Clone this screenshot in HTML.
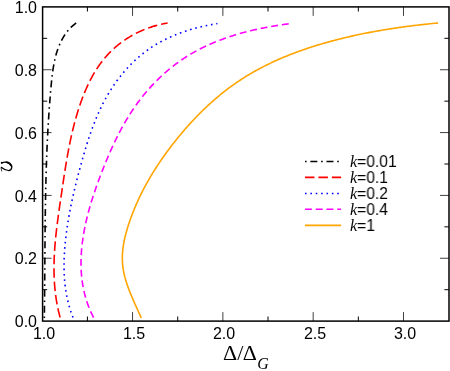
<!DOCTYPE html>
<html><head><meta charset="utf-8"><title>plot</title>
<style>
html,body{margin:0;padding:0;background:#fff;}
body{width:450px;height:371px;position:relative;overflow:hidden;font-family:"Liberation Sans",sans-serif;color:#000;}
.t{position:absolute;white-space:nowrap;line-height:1;font-size:16px;will-change:transform;}
.xl{transform:translateX(-50%);}
.yl{transform:translate(-100%,-50%);}
.lg{font-size:16px;transform:scaleX(0.975);transform-origin:0 0;}
.lg i{font-family:"Liberation Serif",serif;font-style:italic;font-size:16.5px;}
.ser{font-family:"Liberation Serif",serif;}
</style></head><body>
<svg width="450" height="371" viewBox="0 0 450 371" style="position:absolute;left:0;top:0">
<path d="M44.32,318.11 L44.33,317.34 L44.34,316.58 L44.35,315.81 L44.36,315.04 L44.37,314.27 L44.38,313.51 L44.39,312.74 L44.40,311.97 L44.41,311.21 L44.42,310.44 L44.43,309.67 L44.44,308.91 L44.45,308.14 L44.46,307.37 L44.47,306.61 L44.48,305.84 L44.49,305.08 L44.50,304.31 L44.51,303.54 L44.52,302.78 L44.52,302.01 L44.53,301.25 L44.54,300.48 L44.55,299.72 L44.56,298.95 L44.57,298.19 L44.57,297.42 L44.58,296.65 L44.59,295.89 L44.60,295.12 L44.60,294.36 L44.61,293.60 L44.62,292.83 L44.63,292.07 L44.63,291.30 L44.64,290.54 L44.65,289.77 L44.65,289.01 L44.66,288.24 L44.67,287.48 L44.67,286.72 L44.68,285.95 L44.69,285.19 L44.69,284.42 L44.70,283.66 L44.70,282.90 L44.71,282.13 L44.72,281.37 L44.72,280.60 L44.73,279.84 L44.74,279.08 L44.74,278.31 L44.75,277.55 L44.75,276.79 L44.76,276.03 L44.76,275.26 L44.77,274.50 L44.78,273.74 L44.78,272.97 L44.79,272.21 L44.79,271.45 L44.80,270.69 L44.80,269.92 L44.81,269.16 L44.81,268.40 L44.82,267.63 L44.82,266.87 L44.83,266.11 L44.83,265.35 L44.84,264.59 L44.85,263.82 L44.85,263.06 L44.86,262.30 L44.86,261.54 L44.87,260.78 L44.87,260.01 L44.88,259.25 L44.88,258.49 L44.89,257.73 L44.89,256.97 L44.90,256.21 L44.90,255.44 L44.91,254.68 L44.92,253.92 L44.92,253.16 L44.93,252.40 L44.93,251.64 L44.94,250.88 L44.94,250.11 L44.95,249.35 L44.95,248.59 L44.96,247.83 L44.97,247.07 L44.97,246.31 L44.98,245.55 L44.98,244.79 L44.99,244.03 L45.00,243.26 L45.00,242.50 L45.01,241.74 L45.01,240.98 L45.02,240.22 L45.03,239.46 L45.03,238.70 L45.04,237.94 L45.05,237.18 L45.05,236.42 L45.06,235.66 L45.07,234.90 L45.07,234.14 L45.08,233.38 L45.09,232.62 L45.10,231.86 L45.10,231.10 L45.11,230.34 L45.12,229.58 L45.13,228.82 L45.13,228.06 L45.14,227.30 L45.15,226.54 L45.16,225.78 L45.17,225.02 L45.17,224.26 L45.18,223.50 L45.19,222.74 L45.20,221.98 L45.21,221.22 L45.22,220.46 L45.23,219.70 L45.24,218.94 L45.25,218.18 L45.25,217.42 L45.26,216.66 L45.27,215.90 L45.28,215.14 L45.29,214.38 L45.30,213.62 L45.32,212.86 L45.33,212.10 L45.34,211.34 L45.35,210.58 L45.36,209.82 L45.37,209.06 L45.38,208.30 L45.39,207.54 L45.40,206.78 L45.42,206.02 L45.43,205.26 L45.44,204.50 L45.45,203.74 L45.47,202.98 L45.48,202.23 L45.49,201.47 L45.50,200.71 L45.52,199.95 L45.53,199.19 L45.55,198.43 L45.56,197.67 L45.57,196.91 L45.59,196.15 L45.60,195.39 L45.62,194.63 L45.63,193.87 L45.65,193.11 L45.66,192.35 L45.68,191.59 L45.70,190.83 L45.71,190.08 L45.73,189.32 L45.74,188.56 L45.76,187.80 L45.78,187.04 L45.80,186.28 L45.81,185.52 L45.83,184.76 L45.85,184.00 L45.87,183.24 L45.89,182.48 L45.91,181.72 L45.92,180.96 L45.94,180.20 L45.96,179.44 L45.98,178.68 L46.00,177.92 L46.02,177.17 L46.04,176.41 L46.07,175.65 L46.09,174.89 L46.11,174.13 L46.13,173.37 L46.15,172.61 L46.17,171.85 L46.20,171.09 L46.22,170.33 L46.24,169.57 L46.27,168.81 L46.29,168.05 L46.31,167.29 L46.34,166.53 L46.36,165.77 L46.39,165.01 L46.41,164.25 L46.44,163.49 L46.47,162.73 L46.49,161.97 L46.52,161.21 L46.55,160.45 L46.57,159.69 L46.60,158.94 L46.63,158.18 L46.66,157.42 L46.68,156.66 L46.71,155.90 L46.74,155.14 L46.77,154.38 L46.80,153.62 L46.83,152.86 L46.86,152.10 L46.89,151.34 L46.93,150.58 L46.96,149.82 L46.99,149.06 L47.02,148.30 L47.05,147.53 L47.09,146.77 L47.12,146.01 L47.15,145.25 L47.19,144.49 L47.22,143.73 L47.26,142.97 L47.29,142.21 L47.33,141.45 L47.36,140.69 L47.40,139.93 L47.44,139.17 L47.48,138.41 L47.51,137.65 L47.55,136.89 L47.59,136.13 L47.63,135.37 L47.67,134.61 L47.71,133.85 L47.75,133.08 L47.79,132.32 L47.83,131.56 L47.87,130.80 L47.91,130.04 L47.95,129.28 L48.00,128.52 L48.04,127.76 L48.08,127.00 L48.13,126.23 L48.17,125.47 L48.22,124.71 L48.26,123.95 L48.31,123.19 L48.35,122.43 L48.40,121.67 L48.45,120.90 L48.49,120.14 L48.54,119.38 L48.59,118.62 L48.64,117.86 L48.69,117.09 L48.74,116.33 L48.79,115.57 L48.84,114.81 L48.89,114.05 L48.94,113.28 L48.99,112.52 L49.04,111.76 L49.10,111.00 L49.15,110.23 L49.20,109.47 L49.26,108.71 L49.31,107.95 L49.37,107.18 L49.42,106.42 L49.48,105.66 L49.54,104.90 L49.59,104.13 L49.65,103.37 L49.71,102.61 L49.77,101.84 L49.83,101.08 L49.89,100.32 L49.95,99.55 L50.01,98.79 L50.07,98.03 L50.13,97.26 L50.20,96.50 L50.26,95.74 L50.32,94.97 L50.39,94.21 L50.45,93.44 L50.52,92.68 L50.58,91.92 L50.65,91.15 L50.71,90.39 L50.78,89.62 L50.85,88.86 L50.92,88.10 L50.99,87.33 L51.05,86.57 L51.12,85.80 L51.20,85.04 L51.27,84.27 L51.34,83.51 L51.41,82.74 L51.49,81.98 L51.56,81.22 L51.64,80.45 L51.72,79.69 L51.80,78.93 L51.88,78.16 L51.97,77.40 L52.05,76.64 L52.14,75.88 L52.23,75.12 L52.32,74.36 L52.42,73.60 L52.52,72.84 L52.62,72.08 L52.72,71.33 L52.83,70.57 L52.94,69.82 L53.05,69.06 L53.17,68.31 L53.29,67.56 L53.41,66.81 L53.54,66.06 L53.67,65.31 L53.80,64.57 L53.94,63.82 L54.09,63.08 L54.23,62.34 L54.39,61.60 L54.54,60.86 L54.70,60.12 L54.87,59.38 L55.04,58.65 L55.22,57.92 L55.40,57.19 L55.58,56.46 L55.77,55.73 L55.97,55.01 L56.17,54.29 L56.38,53.57 L56.60,52.85 L56.82,52.13 L57.04,51.42 L57.28,50.71 L57.51,50.00 L57.76,49.29 L58.01,48.59 L58.27,47.88 L58.54,47.18 L58.81,46.49 L59.09,45.79 L59.38,45.10 L59.67,44.41 L59.97,43.73 L60.28,43.05 L60.60,42.36 L60.92,41.69 L61.26,41.01 L61.60,40.34 L61.95,39.67 L62.30,39.01 L62.67,38.35 L63.04,37.69 L63.43,37.04 L63.82,36.39 L64.22,35.74 L64.63,35.10 L65.05,34.47 L65.48,33.84 L65.92,33.22 L66.37,32.60 L66.83,31.99 L67.30,31.39 L67.78,30.79 L68.27,30.20 L68.77,29.62 L69.28,29.04 L69.80,28.48 L70.34,27.92 L70.89,27.37 L71.44,26.83 L72.01,26.31 L72.60,25.79 L73.19,25.28 L73.80,24.78 L74.42,24.29 L75.05,23.81 L75.69,23.34 L76.35,22.89 L77.02,22.45 L77.70,22.02" fill="none" stroke="#000000" stroke-width="1.6" stroke-dasharray="1.60 3.77 6.97 3.77"/>
<path d="M60.12,317.49 L59.89,316.65 L59.66,315.80 L59.44,314.95 L59.23,314.10 L59.02,313.25 L58.81,312.41 L58.61,311.56 L58.42,310.71 L58.23,309.86 L58.04,309.01 L57.86,308.16 L57.69,307.31 L57.51,306.46 L57.35,305.61 L57.19,304.76 L57.03,303.91 L56.87,303.06 L56.73,302.21 L56.58,301.36 L56.44,300.51 L56.30,299.66 L56.17,298.81 L56.05,297.96 L55.92,297.11 L55.80,296.26 L55.69,295.41 L55.58,294.56 L55.47,293.71 L55.37,292.85 L55.27,292.00 L55.18,291.15 L55.09,290.30 L55.00,289.45 L54.92,288.60 L54.84,287.74 L54.76,286.89 L54.69,286.04 L54.62,285.19 L54.56,284.34 L54.50,283.49 L54.44,282.63 L54.39,281.78 L54.34,280.93 L54.30,280.08 L54.25,279.22 L54.21,278.37 L54.18,277.52 L54.15,276.67 L54.12,275.81 L54.09,274.96 L54.07,274.11 L54.05,273.25 L54.03,272.40 L54.02,271.55 L54.01,270.70 L54.01,269.84 L54.00,268.99 L54.00,268.14 L54.00,267.28 L54.01,266.43 L54.02,265.58 L54.03,264.72 L54.04,263.87 L54.06,263.02 L54.08,262.16 L54.10,261.31 L54.13,260.46 L54.16,259.60 L54.19,258.75 L54.22,257.89 L54.25,257.04 L54.29,256.19 L54.33,255.33 L54.38,254.48 L54.42,253.63 L54.47,252.77 L54.52,251.92 L54.57,251.07 L54.63,250.21 L54.68,249.36 L54.74,248.50 L54.80,247.65 L54.87,246.80 L54.93,245.94 L55.00,245.09 L55.07,244.24 L55.14,243.38 L55.21,242.53 L55.29,241.67 L55.37,240.82 L55.44,239.97 L55.53,239.11 L55.61,238.26 L55.69,237.41 L55.78,236.55 L55.87,235.70 L55.96,234.85 L56.05,233.99 L56.14,233.14 L56.23,232.29 L56.33,231.43 L56.43,230.58 L56.52,229.73 L56.62,228.87 L56.72,228.02 L56.83,227.17 L56.93,226.31 L57.03,225.46 L57.14,224.61 L57.25,223.75 L57.36,222.90 L57.47,222.05 L57.58,221.19 L57.69,220.34 L57.80,219.49 L57.91,218.64 L58.03,217.78 L58.14,216.93 L58.26,216.08 L58.38,215.23 L58.49,214.37 L58.61,213.52 L58.73,212.67 L58.85,211.82 L58.97,210.96 L59.09,210.11 L59.21,209.26 L59.33,208.41 L59.46,207.56 L59.58,206.71 L59.70,205.85 L59.83,205.00 L59.95,204.15 L60.07,203.30 L60.20,202.45 L60.32,201.60 L60.45,200.75 L60.57,199.90 L60.70,199.04 L60.82,198.19 L60.95,197.34 L61.07,196.49 L61.20,195.64 L61.33,194.79 L61.45,193.94 L61.58,193.09 L61.70,192.24 L61.83,191.39 L61.95,190.54 L62.08,189.69 L62.20,188.84 L62.33,187.99 L62.45,187.14 L62.58,186.29 L62.70,185.45 L62.83,184.60 L62.95,183.75 L63.08,182.90 L63.21,182.05 L63.33,181.20 L63.46,180.35 L63.59,179.51 L63.71,178.66 L63.84,177.81 L63.97,176.96 L64.10,176.12 L64.23,175.27 L64.36,174.42 L64.49,173.58 L64.62,172.73 L64.75,171.88 L64.89,171.04 L65.02,170.19 L65.15,169.35 L65.29,168.50 L65.42,167.65 L65.56,166.81 L65.70,165.97 L65.83,165.12 L65.97,164.28 L66.11,163.43 L66.25,162.59 L66.40,161.74 L66.54,160.90 L66.68,160.06 L66.83,159.21 L66.97,158.37 L67.12,157.53 L67.27,156.69 L67.42,155.85 L67.57,155.00 L67.72,154.16 L67.87,153.32 L68.03,152.48 L68.18,151.64 L68.34,150.80 L68.50,149.96 L68.66,149.12 L68.82,148.28 L68.98,147.44 L69.14,146.60 L69.31,145.76 L69.48,144.93 L69.64,144.09 L69.81,143.25 L69.99,142.41 L70.16,141.58 L70.34,140.74 L70.51,139.90 L70.69,139.07 L70.87,138.23 L71.05,137.40 L71.24,136.56 L71.42,135.73 L71.61,134.89 L71.80,134.06 L71.99,133.22 L72.19,132.39 L72.38,131.56 L72.58,130.73 L72.78,129.89 L72.98,129.06 L73.19,128.23 L73.39,127.40 L73.60,126.57 L73.81,125.74 L74.03,124.91 L74.24,124.08 L74.46,123.25 L74.68,122.42 L74.90,121.59 L75.12,120.77 L75.35,119.94 L75.58,119.11 L75.81,118.28 L76.05,117.46 L76.28,116.63 L76.52,115.81 L76.77,114.98 L77.01,114.16 L77.26,113.33 L77.51,112.51 L77.76,111.69 L78.02,110.86 L78.28,110.04 L78.54,109.22 L78.80,108.40 L79.07,107.58 L79.34,106.76 L79.61,105.94 L79.89,105.12 L80.16,104.30 L80.45,103.48 L80.73,102.67 L81.02,101.85 L81.31,101.04 L81.60,100.22 L81.90,99.41 L82.20,98.60 L82.51,97.79 L82.82,96.98 L83.13,96.17 L83.44,95.37 L83.76,94.57 L84.08,93.76 L84.41,92.96 L84.74,92.16 L85.07,91.37 L85.40,90.57 L85.74,89.78 L86.09,88.99 L86.44,88.20 L86.79,87.41 L87.14,86.63 L87.50,85.84 L87.87,85.06 L88.23,84.28 L88.61,83.51 L88.98,82.73 L89.36,81.96 L89.75,81.20 L90.13,80.43 L90.53,79.67 L90.92,78.91 L91.32,78.15 L91.73,77.39 L92.14,76.64 L92.55,75.89 L92.97,75.15 L93.40,74.41 L93.83,73.67 L94.26,72.93 L94.70,72.20 L95.14,71.47 L95.59,70.74 L96.04,70.02 L96.49,69.30 L96.96,68.59 L97.42,67.88 L97.89,67.17 L98.37,66.46 L98.85,65.76 L99.34,65.07 L99.83,64.38 L100.33,63.69 L100.83,63.00 L101.34,62.33 L101.85,61.65 L102.37,60.98 L102.89,60.31 L103.42,59.65 L103.95,58.99 L104.49,58.34 L105.04,57.69 L105.59,57.05 L106.14,56.41 L106.70,55.77 L107.27,55.14 L107.84,54.52 L108.42,53.90 L109.01,53.28 L109.60,52.67 L110.19,52.07 L110.80,51.47 L111.40,50.87 L112.02,50.29 L112.63,49.70 L113.26,49.12 L113.89,48.55 L114.52,47.98 L115.16,47.42 L115.80,46.86 L116.45,46.31 L117.11,45.76 L117.77,45.22 L118.43,44.68 L119.10,44.15 L119.77,43.63 L120.45,43.11 L121.13,42.59 L121.82,42.09 L122.51,41.58 L123.21,41.08 L123.91,40.59 L124.62,40.11 L125.33,39.63 L126.04,39.15 L126.76,38.68 L127.48,38.22 L128.21,37.76 L128.94,37.31 L129.67,36.87 L130.41,36.43 L131.15,35.99 L131.90,35.56 L132.65,35.14 L133.40,34.73 L134.16,34.32 L134.92,33.91 L135.68,33.52 L136.45,33.12 L137.22,32.74 L138.00,32.36 L138.77,31.99 L139.55,31.62 L140.34,31.26 L141.13,30.90 L141.92,30.56 L142.71,30.22 L143.50,29.88 L144.30,29.55 L145.11,29.23 L145.91,28.91 L146.72,28.60 L147.53,28.30 L148.34,28.00 L149.15,27.71 L149.97,27.43 L150.79,27.15 L151.61,26.88 L152.44,26.62 L153.26,26.36 L154.09,26.11 L154.92,25.87 L155.76,25.63 L156.59,25.40 L157.43,25.18 L158.27,24.96 L159.11,24.75 L159.95,24.55 L160.80,24.35 L161.64,24.16 L162.49,23.98 L163.34,23.81 L164.19,23.64 L165.04,23.48 L165.89,23.32 L166.75,23.18 L167.61,23.04" fill="none" stroke="#ff0000" stroke-width="1.6" stroke-dasharray="9.50 3.93"/>
<path d="M72.99,317.45 L72.65,316.57 L72.31,315.68 L71.98,314.80 L71.66,313.92 L71.35,313.03 L71.04,312.15 L70.75,311.26 L70.45,310.37 L70.17,309.49 L69.90,308.60 L69.63,307.71 L69.36,306.81 L69.11,305.92 L68.86,305.03 L68.62,304.13 L68.39,303.24 L68.16,302.34 L67.94,301.45 L67.73,300.55 L67.52,299.65 L67.32,298.75 L67.13,297.85 L66.94,296.95 L66.76,296.05 L66.59,295.15 L66.42,294.24 L66.26,293.34 L66.11,292.44 L65.96,291.53 L65.82,290.63 L65.68,289.72 L65.55,288.81 L65.42,287.91 L65.31,287.00 L65.19,286.09 L65.08,285.18 L64.98,284.27 L64.89,283.36 L64.80,282.45 L64.71,281.54 L64.63,280.63 L64.56,279.72 L64.49,278.81 L64.42,277.90 L64.36,276.99 L64.31,276.07 L64.26,275.16 L64.22,274.25 L64.18,273.33 L64.14,272.42 L64.11,271.51 L64.09,270.59 L64.07,269.68 L64.05,268.76 L64.04,267.85 L64.03,266.93 L64.03,266.02 L64.03,265.11 L64.04,264.19 L64.05,263.28 L64.06,262.36 L64.08,261.45 L64.10,260.53 L64.13,259.62 L64.16,258.70 L64.19,257.79 L64.23,256.87 L64.27,255.96 L64.32,255.04 L64.37,254.13 L64.42,253.21 L64.48,252.30 L64.53,251.38 L64.60,250.47 L64.66,249.56 L64.73,248.64 L64.80,247.73 L64.88,246.82 L64.96,245.91 L65.04,244.99 L65.12,244.08 L65.21,243.17 L65.30,242.26 L65.39,241.35 L65.48,240.44 L65.58,239.53 L65.68,238.62 L65.78,237.71 L65.89,236.80 L65.99,235.89 L66.10,234.98 L66.22,234.08 L66.33,233.17 L66.45,232.26 L66.57,231.35 L66.69,230.45 L66.82,229.54 L66.95,228.64 L67.08,227.73 L67.21,226.83 L67.34,225.92 L67.48,225.02 L67.62,224.11 L67.76,223.21 L67.90,222.31 L68.05,221.40 L68.20,220.50 L68.35,219.60 L68.50,218.70 L68.66,217.79 L68.81,216.89 L68.97,215.99 L69.13,215.09 L69.30,214.19 L69.46,213.29 L69.63,212.39 L69.80,211.49 L69.97,210.59 L70.14,209.69 L70.32,208.79 L70.49,207.89 L70.67,206.99 L70.85,206.09 L71.04,205.20 L71.22,204.30 L71.41,203.40 L71.60,202.50 L71.79,201.61 L71.98,200.71 L72.17,199.81 L72.36,198.92 L72.56,198.02 L72.76,197.12 L72.96,196.23 L73.16,195.33 L73.36,194.44 L73.57,193.54 L73.78,192.65 L73.98,191.75 L74.19,190.86 L74.40,189.97 L74.61,189.07 L74.83,188.18 L75.04,187.29 L75.26,186.39 L75.48,185.50 L75.70,184.61 L75.92,183.71 L76.14,182.82 L76.36,181.93 L76.59,181.04 L76.81,180.14 L77.04,179.25 L77.27,178.36 L77.50,177.47 L77.73,176.58 L77.96,175.69 L78.19,174.80 L78.43,173.91 L78.66,173.02 L78.90,172.12 L79.13,171.23 L79.37,170.34 L79.61,169.45 L79.85,168.56 L80.09,167.67 L80.33,166.78 L80.58,165.90 L80.82,165.01 L81.06,164.12 L81.31,163.23 L81.55,162.34 L81.80,161.45 L82.05,160.56 L82.30,159.67 L82.55,158.78 L82.80,157.90 L83.05,157.01 L83.31,156.12 L83.56,155.23 L83.82,154.35 L84.07,153.46 L84.33,152.58 L84.59,151.69 L84.86,150.81 L85.12,149.92 L85.38,149.04 L85.65,148.16 L85.92,147.27 L86.19,146.39 L86.46,145.51 L86.73,144.63 L87.01,143.75 L87.29,142.87 L87.57,141.99 L87.85,141.12 L88.13,140.24 L88.42,139.36 L88.70,138.49 L88.99,137.61 L89.28,136.74 L89.58,135.87 L89.88,135.00 L90.17,134.13 L90.48,133.26 L90.78,132.39 L91.08,131.52 L91.39,130.66 L91.70,129.79 L92.02,128.93 L92.34,128.07 L92.65,127.21 L92.98,126.35 L93.30,125.49 L93.63,124.63 L93.96,123.77 L94.29,122.92 L94.63,122.07 L94.97,121.21 L95.31,120.36 L95.66,119.51 L96.01,118.67 L96.36,117.82 L96.72,116.98 L97.07,116.13 L97.44,115.29 L97.80,114.45 L98.17,113.61 L98.54,112.78 L98.92,111.94 L99.30,111.11 L99.68,110.28 L100.07,109.45 L100.46,108.62 L100.86,107.79 L101.26,106.97 L101.66,106.15 L102.07,105.33 L102.48,104.51 L102.89,103.69 L103.31,102.88 L103.73,102.07 L104.16,101.26 L104.59,100.45 L105.02,99.64 L105.46,98.84 L105.91,98.03 L106.36,97.23 L106.81,96.44 L107.26,95.64 L107.73,94.85 L108.19,94.06 L108.66,93.27 L109.14,92.49 L109.61,91.70 L110.10,90.92 L110.58,90.14 L111.08,89.37 L111.57,88.60 L112.07,87.83 L112.58,87.06 L113.09,86.29 L113.60,85.53 L114.12,84.77 L114.64,84.02 L115.16,83.27 L115.69,82.52 L116.23,81.77 L116.77,81.03 L117.31,80.29 L117.86,79.55 L118.41,78.82 L118.96,78.09 L119.52,77.36 L120.09,76.64 L120.66,75.92 L121.23,75.20 L121.81,74.49 L122.39,73.78 L122.97,73.08 L123.56,72.38 L124.16,71.68 L124.76,70.99 L125.36,70.30 L125.97,69.61 L126.58,68.93 L127.19,68.25 L127.81,67.58 L128.44,66.91 L129.06,66.24 L129.70,65.58 L130.33,64.92 L130.97,64.27 L131.62,63.62 L132.27,62.98 L132.92,62.34 L133.58,61.70 L134.24,61.07 L134.90,60.45 L135.57,59.83 L136.25,59.21 L136.92,58.60 L137.60,57.99 L138.29,57.39 L138.98,56.79 L139.68,56.20 L140.37,55.61 L141.08,55.03 L141.78,54.45 L142.50,53.88 L143.21,53.31 L143.93,52.75 L144.65,52.19 L145.38,51.64 L146.11,51.09 L146.85,50.55 L147.59,50.02 L148.33,49.49 L149.08,48.96 L149.83,48.44 L150.59,47.93 L151.35,47.42 L152.11,46.92 L152.88,46.43 L153.65,45.93 L154.43,45.45 L155.21,44.97 L155.99,44.50 L156.78,44.03 L157.57,43.57 L158.37,43.11 L159.17,42.66 L159.97,42.21 L160.77,41.77 L161.58,41.34 L162.40,40.91 L163.21,40.48 L164.03,40.07 L164.85,39.65 L165.68,39.24 L166.50,38.84 L167.33,38.44 L168.17,38.05 L169.00,37.66 L169.84,37.28 L170.68,36.91 L171.53,36.53 L172.38,36.17 L173.22,35.81 L174.08,35.45 L174.93,35.10 L175.79,34.75 L176.65,34.41 L177.51,34.07 L178.37,33.74 L179.23,33.41 L180.10,33.09 L180.97,32.77 L181.84,32.46 L182.71,32.15 L183.59,31.85 L184.46,31.55 L185.34,31.26 L186.22,30.97 L187.10,30.69 L187.98,30.41 L188.86,30.13 L189.75,29.86 L190.63,29.59 L191.52,29.33 L192.40,29.07 L193.29,28.82 L194.18,28.57 L195.07,28.33 L195.96,28.09 L196.86,27.85 L197.75,27.62 L198.64,27.40 L199.54,27.17 L200.43,26.96 L201.32,26.74 L202.22,26.53 L203.11,26.32 L204.01,26.12 L204.91,25.93 L205.80,25.73 L206.70,25.54 L207.59,25.36 L208.49,25.17 L209.39,25.00 L210.28,24.82 L211.18,24.65 L212.07,24.49 L212.97,24.32 L213.86,24.16 L214.75,24.01 L215.65,23.86 L216.54,23.71 L217.43,23.57" fill="none" stroke="#0000ff" stroke-width="1.6" stroke-dasharray="1.60 3.77"/>
<path d="M93.61,317.55 L93.12,316.61 L92.64,315.66 L92.17,314.71 L91.71,313.76 L91.27,312.80 L90.83,311.85 L90.41,310.89 L89.99,309.93 L89.59,308.97 L89.19,308.01 L88.81,307.04 L88.44,306.07 L88.08,305.11 L87.72,304.14 L87.38,303.16 L87.05,302.19 L86.72,301.22 L86.41,300.24 L86.11,299.26 L85.81,298.28 L85.53,297.30 L85.26,296.32 L84.99,295.33 L84.73,294.35 L84.49,293.36 L84.25,292.38 L84.02,291.39 L83.80,290.40 L83.59,289.41 L83.39,288.41 L83.20,287.42 L83.01,286.43 L82.84,285.43 L82.67,284.44 L82.51,283.44 L82.36,282.44 L82.22,281.44 L82.09,280.44 L81.96,279.44 L81.85,278.44 L81.74,277.44 L81.64,276.44 L81.54,275.44 L81.46,274.44 L81.38,273.43 L81.31,272.43 L81.25,271.42 L81.19,270.42 L81.15,269.41 L81.10,268.41 L81.07,267.40 L81.05,266.40 L81.03,265.39 L81.02,264.38 L81.01,263.38 L81.01,262.37 L81.02,261.36 L81.04,260.36 L81.06,259.35 L81.09,258.34 L81.12,257.34 L81.16,256.33 L81.21,255.32 L81.27,254.32 L81.33,253.31 L81.39,252.31 L81.47,251.30 L81.54,250.30 L81.63,249.29 L81.72,248.29 L81.81,247.28 L81.92,246.28 L82.02,245.28 L82.14,244.28 L82.25,243.28 L82.38,242.27 L82.51,241.28 L82.64,240.28 L82.78,239.28 L82.92,238.28 L83.07,237.28 L83.22,236.29 L83.38,235.29 L83.55,234.29 L83.72,233.30 L83.89,232.31 L84.07,231.31 L84.25,230.32 L84.44,229.33 L84.63,228.34 L84.83,227.35 L85.03,226.36 L85.23,225.37 L85.44,224.38 L85.66,223.39 L85.88,222.41 L86.10,221.42 L86.33,220.43 L86.56,219.45 L86.79,218.46 L87.03,217.48 L87.28,216.50 L87.52,215.51 L87.77,214.53 L88.03,213.55 L88.29,212.57 L88.55,211.59 L88.81,210.61 L89.08,209.63 L89.36,208.66 L89.63,207.68 L89.91,206.70 L90.20,205.73 L90.48,204.75 L90.77,203.78 L91.07,202.80 L91.36,201.83 L91.66,200.86 L91.96,199.89 L92.27,198.92 L92.58,197.95 L92.89,196.98 L93.20,196.01 L93.52,195.04 L93.84,194.07 L94.16,193.10 L94.49,192.14 L94.81,191.17 L95.14,190.21 L95.48,189.24 L95.81,188.28 L96.15,187.32 L96.49,186.35 L96.83,185.39 L97.18,184.43 L97.52,183.47 L97.87,182.51 L98.22,181.55 L98.58,180.59 L98.93,179.64 L99.29,178.68 L99.65,177.72 L100.01,176.77 L100.37,175.81 L100.73,174.86 L101.10,173.90 L101.46,172.95 L101.83,172.00 L102.20,171.05 L102.58,170.10 L102.95,169.15 L103.32,168.20 L103.70,167.25 L104.08,166.30 L104.46,165.35 L104.84,164.41 L105.22,163.46 L105.61,162.52 L106.00,161.57 L106.39,160.63 L106.78,159.69 L107.17,158.75 L107.57,157.81 L107.96,156.87 L108.36,155.93 L108.76,155.00 L109.17,154.06 L109.57,153.13 L109.98,152.20 L110.39,151.26 L110.81,150.33 L111.22,149.41 L111.64,148.48 L112.06,147.55 L112.48,146.63 L112.91,145.71 L113.34,144.78 L113.77,143.86 L114.20,142.95 L114.64,142.03 L115.08,141.11 L115.52,140.20 L115.96,139.29 L116.41,138.38 L116.86,137.47 L117.31,136.56 L117.77,135.66 L118.23,134.75 L118.69,133.85 L119.15,132.95 L119.62,132.05 L120.09,131.16 L120.57,130.26 L121.04,129.37 L121.52,128.48 L122.01,127.59 L122.50,126.71 L122.99,125.82 L123.48,124.94 L123.98,124.06 L124.48,123.18 L124.99,122.31 L125.49,121.43 L126.01,120.56 L126.52,119.69 L127.04,118.83 L127.57,117.96 L128.09,117.10 L128.62,116.24 L129.16,115.38 L129.70,114.53 L130.24,113.68 L130.78,112.83 L131.33,111.98 L131.89,111.14 L132.45,110.29 L133.01,109.46 L133.58,108.62 L134.15,107.78 L134.72,106.95 L135.30,106.12 L135.89,105.30 L136.47,104.48 L137.07,103.66 L137.66,102.84 L138.26,102.02 L138.87,101.21 L139.48,100.40 L140.09,99.60 L140.71,98.79 L141.34,98.00 L141.96,97.20 L142.59,96.41 L143.23,95.62 L143.87,94.83 L144.51,94.04 L145.16,93.26 L145.81,92.49 L146.47,91.71 L147.13,90.94 L147.79,90.18 L148.46,89.41 L149.14,88.65 L149.81,87.90 L150.49,87.14 L151.18,86.39 L151.87,85.65 L152.56,84.91 L153.26,84.17 L153.96,83.44 L154.66,82.70 L155.37,81.98 L156.09,81.26 L156.80,80.54 L157.52,79.82 L158.25,79.11 L158.98,78.40 L159.71,77.70 L160.45,77.00 L161.19,76.31 L161.93,75.62 L162.68,74.93 L163.43,74.25 L164.18,73.57 L164.94,72.90 L165.71,72.23 L166.47,71.57 L167.24,70.91 L168.02,70.25 L168.79,69.60 L169.57,68.95 L170.36,68.31 L171.15,67.68 L171.94,67.04 L172.73,66.42 L173.53,65.79 L174.34,65.17 L175.14,64.56 L175.95,63.95 L176.76,63.35 L177.58,62.75 L178.40,62.16 L179.22,61.57 L180.05,60.98 L180.88,60.40 L181.72,59.83 L182.55,59.26 L183.39,58.70 L184.24,58.14 L185.08,57.59 L185.93,57.04 L186.79,56.50 L187.65,55.96 L188.51,55.43 L189.37,54.90 L190.24,54.38 L191.11,53.87 L191.98,53.36 L192.86,52.85 L193.74,52.35 L194.62,51.86 L195.50,51.37 L196.39,50.88 L197.28,50.40 L198.18,49.93 L199.07,49.46 L199.97,49.00 L200.88,48.54 L201.78,48.08 L202.69,47.63 L203.60,47.19 L204.51,46.75 L205.43,46.31 L206.34,45.88 L207.26,45.46 L208.19,45.04 L209.11,44.62 L210.04,44.21 L210.97,43.80 L211.90,43.40 L212.83,43.01 L213.77,42.61 L214.71,42.22 L215.65,41.84 L216.59,41.46 L217.54,41.09 L218.48,40.72 L219.43,40.35 L220.38,39.99 L221.33,39.63 L222.29,39.28 L223.24,38.93 L224.20,38.58 L225.16,38.24 L226.12,37.91 L227.09,37.57 L228.05,37.25 L229.02,36.92 L229.98,36.60 L230.95,36.29 L231.92,35.98 L232.89,35.67 L233.87,35.36 L234.84,35.06 L235.82,34.77 L236.79,34.48 L237.77,34.19 L238.75,33.90 L239.73,33.62 L240.71,33.34 L241.69,33.07 L242.68,32.80 L243.66,32.54 L244.65,32.27 L245.63,32.01 L246.62,31.76 L247.61,31.51 L248.60,31.26 L249.59,31.01 L250.58,30.77 L251.57,30.54 L252.56,30.30 L253.55,30.07 L254.55,29.84 L255.54,29.62 L256.53,29.40 L257.53,29.18 L258.52,28.96 L259.52,28.75 L260.51,28.54 L261.51,28.34 L262.50,28.14 L263.50,27.94 L264.49,27.74 L265.49,27.55 L266.48,27.36 L267.48,27.17 L268.48,26.99 L269.47,26.81 L270.47,26.63 L271.46,26.45 L272.46,26.28 L273.46,26.11 L274.45,25.94 L275.45,25.78 L276.44,25.61 L277.44,25.46 L278.43,25.30 L279.42,25.14 L280.42,24.99 L281.41,24.84 L282.40,24.70 L283.39,24.55 L284.38,24.41 L285.37,24.27 L286.36,24.14 L287.35,24.00 L288.34,23.87 L289.33,23.74" fill="none" stroke="#ff00ff" stroke-width="1.6" stroke-dasharray="6.90 3.84"/>
<path d="M141.25,317.97 L140.77,316.88 L140.29,315.78 L139.80,314.68 L139.31,313.58 L138.81,312.48 L138.31,311.37 L137.81,310.25 L137.30,309.14 L136.80,308.02 L136.29,306.89 L135.78,305.77 L135.27,304.63 L134.76,303.50 L134.25,302.36 L133.75,301.22 L133.25,300.08 L132.75,298.93 L132.25,297.78 L131.76,296.63 L131.28,295.48 L130.80,294.32 L130.33,293.16 L129.86,292.00 L129.41,290.83 L128.96,289.66 L128.52,288.49 L128.09,287.32 L127.67,286.14 L127.26,284.96 L126.86,283.79 L126.48,282.60 L126.11,281.42 L125.75,280.23 L125.41,279.05 L125.08,277.86 L124.76,276.67 L124.47,275.47 L124.19,274.28 L123.92,273.08 L123.68,271.89 L123.45,270.69 L123.25,269.49 L123.06,268.29 L122.89,267.08 L122.75,265.88 L122.63,264.68 L122.52,263.47 L122.45,262.26 L122.39,261.06 L122.35,259.85 L122.34,258.64 L122.34,257.43 L122.37,256.22 L122.41,255.01 L122.47,253.80 L122.55,252.59 L122.65,251.38 L122.77,250.17 L122.90,248.96 L123.05,247.76 L123.21,246.55 L123.40,245.34 L123.59,244.13 L123.80,242.93 L124.03,241.72 L124.27,240.52 L124.52,239.32 L124.79,238.12 L125.06,236.92 L125.35,235.72 L125.66,234.52 L125.97,233.33 L126.29,232.13 L126.62,230.94 L126.97,229.75 L127.32,228.57 L127.68,227.38 L128.05,226.20 L128.43,225.02 L128.81,223.84 L129.21,222.67 L129.60,221.49 L130.01,220.32 L130.42,219.16 L130.84,218.00 L131.26,216.83 L131.69,215.68 L132.13,214.52 L132.57,213.37 L133.02,212.22 L133.48,211.07 L133.94,209.93 L134.41,208.79 L134.88,207.65 L135.36,206.52 L135.85,205.38 L136.34,204.25 L136.83,203.13 L137.34,202.00 L137.84,200.88 L138.36,199.76 L138.88,198.65 L139.40,197.53 L139.93,196.42 L140.47,195.31 L141.01,194.21 L141.56,193.11 L142.11,192.01 L142.67,190.91 L143.24,189.82 L143.80,188.73 L144.38,187.64 L144.96,186.55 L145.54,185.47 L146.13,184.39 L146.73,183.31 L147.32,182.24 L147.93,181.16 L148.54,180.09 L149.15,179.03 L149.77,177.96 L150.40,176.90 L151.02,175.84 L151.66,174.79 L152.30,173.73 L152.94,172.68 L153.59,171.64 L154.24,170.59 L154.89,169.55 L155.56,168.51 L156.22,167.47 L156.89,166.44 L157.57,165.40 L158.24,164.38 L158.93,163.35 L159.61,162.32 L160.30,161.30 L161.00,160.28 L161.70,159.27 L162.40,158.26 L163.11,157.24 L163.82,156.24 L164.54,155.23 L165.25,154.23 L165.98,153.23 L166.70,152.23 L167.43,151.24 L168.17,150.24 L168.91,149.25 L169.65,148.27 L170.39,147.28 L171.14,146.30 L171.89,145.32 L172.65,144.34 L173.41,143.37 L174.17,142.40 L174.94,141.43 L175.71,140.46 L176.48,139.50 L177.25,138.54 L178.03,137.58 L178.81,136.62 L179.60,135.67 L180.39,134.72 L181.18,133.77 L181.98,132.83 L182.78,131.89 L183.58,130.95 L184.38,130.01 L185.19,129.08 L186.00,128.15 L186.82,127.22 L187.64,126.30 L188.46,125.38 L189.29,124.46 L190.12,123.55 L190.95,122.64 L191.78,121.73 L192.62,120.83 L193.47,119.93 L194.31,119.03 L195.16,118.14 L196.01,117.25 L196.87,116.37 L197.73,115.48 L198.59,114.61 L199.46,113.73 L200.33,112.86 L201.20,111.99 L202.08,111.13 L202.96,110.27 L203.85,109.42 L204.73,108.56 L205.62,107.72 L206.52,106.87 L207.42,106.03 L208.32,105.20 L209.22,104.37 L210.13,103.54 L211.04,102.72 L211.96,101.90 L212.88,101.09 L213.80,100.28 L214.73,99.47 L215.66,98.67 L216.59,97.87 L217.53,97.08 L218.47,96.30 L219.41,95.51 L220.36,94.74 L221.31,93.96 L222.26,93.19 L223.22,92.43 L224.18,91.67 L225.15,90.92 L226.12,90.17 L227.09,89.42 L228.07,88.68 L229.05,87.95 L230.03,87.22 L231.02,86.50 L232.01,85.78 L233.00,85.06 L234.00,84.35 L235.00,83.65 L236.01,82.95 L237.02,82.26 L238.03,81.57 L239.05,80.89 L240.07,80.21 L241.09,79.54 L242.12,78.87 L243.15,78.21 L244.18,77.56 L245.22,76.91 L246.26,76.26 L247.31,75.63 L248.36,74.99 L249.41,74.36 L250.46,73.74 L251.52,73.12 L252.58,72.51 L253.65,71.90 L254.72,71.30 L255.79,70.70 L256.86,70.11 L257.94,69.52 L259.02,68.94 L260.11,68.36 L261.19,67.79 L262.28,67.22 L263.37,66.66 L264.47,66.10 L265.57,65.55 L266.67,65.00 L267.77,64.46 L268.88,63.92 L269.99,63.38 L271.10,62.85 L272.21,62.33 L273.33,61.81 L274.45,61.29 L275.57,60.78 L276.69,60.28 L277.82,59.78 L278.95,59.28 L280.08,58.79 L281.21,58.30 L282.35,57.82 L283.48,57.34 L284.62,56.86 L285.76,56.39 L286.91,55.92 L288.05,55.46 L289.20,55.00 L290.35,54.55 L291.50,54.10 L292.65,53.66 L293.81,53.22 L294.97,52.78 L296.12,52.35 L297.28,51.92 L298.45,51.49 L299.61,51.07 L300.78,50.66 L301.94,50.24 L303.11,49.84 L304.28,49.43 L305.45,49.03 L306.62,48.63 L307.80,48.24 L308.97,47.85 L310.15,47.46 L311.32,47.08 L312.50,46.70 L313.68,46.33 L314.86,45.96 L316.04,45.59 L317.23,45.23 L318.41,44.87 L319.60,44.51 L320.78,44.16 L321.97,43.81 L323.16,43.46 L324.34,43.12 L325.53,42.78 L326.72,42.44 L327.91,42.11 L329.10,41.78 L330.29,41.46 L331.49,41.13 L332.68,40.81 L333.87,40.50 L335.07,40.19 L336.26,39.88 L337.45,39.57 L338.65,39.27 L339.84,38.96 L341.04,38.67 L342.23,38.37 L343.43,38.08 L344.62,37.79 L345.82,37.51 L347.02,37.22 L348.21,36.94 L349.41,36.67 L350.61,36.39 L351.80,36.12 L353.00,35.86 L354.20,35.59 L355.40,35.33 L356.60,35.07 L357.80,34.81 L358.99,34.56 L360.19,34.30 L361.39,34.06 L362.59,33.81 L363.80,33.57 L365.00,33.33 L366.20,33.09 L367.40,32.85 L368.60,32.62 L369.81,32.39 L371.01,32.16 L372.21,31.93 L373.42,31.71 L374.62,31.49 L375.83,31.27 L377.03,31.06 L378.24,30.84 L379.44,30.63 L380.65,30.43 L381.86,30.22 L383.07,30.02 L384.28,29.81 L385.48,29.62 L386.69,29.42 L387.90,29.22 L389.12,29.03 L390.33,28.84 L391.54,28.66 L392.75,28.47 L393.96,28.29 L395.18,28.10 L396.39,27.93 L397.61,27.75 L398.82,27.57 L400.04,27.40 L401.26,27.23 L402.47,27.06 L403.69,26.89 L404.91,26.73 L406.13,26.57 L407.35,26.41 L408.57,26.25 L409.79,26.09 L411.02,25.93 L412.24,25.78 L413.46,25.63 L414.69,25.48 L415.91,25.33 L417.14,25.19 L418.37,25.04 L419.60,24.90 L420.82,24.76 L422.05,24.62 L423.28,24.48 L424.51,24.35 L425.75,24.21 L426.98,24.08 L428.21,23.95 L429.45,23.82 L430.68,23.69 L431.92,23.56 L433.16,23.44 L434.39,23.32 L435.63,23.20 L436.87,23.08 L438.11,22.96" fill="none" stroke="#ffa500" stroke-width="1.6"/>
<path d="M87.41,321.1 V316.50 M87.41,6.9 V11.50" stroke="#000" stroke-width="1.0" fill="none"/>
<path d="M132.56,321.1 V312.10 M132.56,6.9 V15.90" stroke="#000" stroke-width="0.75" fill="none"/>
<path d="M177.72,321.1 V316.50 M177.72,6.9 V11.50" stroke="#000" stroke-width="1.0" fill="none"/>
<path d="M222.87,321.1 V312.10 M222.87,6.9 V15.90" stroke="#000" stroke-width="0.75" fill="none"/>
<path d="M268.03,321.1 V316.50 M268.03,6.9 V11.50" stroke="#000" stroke-width="1.0" fill="none"/>
<path d="M313.18,321.1 V312.10 M313.18,6.9 V15.90" stroke="#000" stroke-width="0.75" fill="none"/>
<path d="M358.34,321.1 V316.50 M358.34,6.9 V11.50" stroke="#000" stroke-width="1.0" fill="none"/>
<path d="M403.49,321.1 V312.10 M403.49,6.9 V15.90" stroke="#000" stroke-width="0.75" fill="none"/>
<path d="M42.6,289.68 H47.20 M449.0,289.68 H444.40" stroke="#000" stroke-width="1.0" fill="none"/>
<path d="M42.6,258.26 H51.60 M449.0,258.26 H440.00" stroke="#000" stroke-width="0.75" fill="none"/>
<path d="M42.6,226.84 H47.20 M449.0,226.84 H444.40" stroke="#000" stroke-width="1.0" fill="none"/>
<path d="M42.6,195.42 H51.60 M449.0,195.42 H440.00" stroke="#000" stroke-width="0.75" fill="none"/>
<path d="M42.6,164.00 H47.20 M449.0,164.00 H444.40" stroke="#000" stroke-width="1.0" fill="none"/>
<path d="M42.6,132.58 H51.60 M449.0,132.58 H440.00" stroke="#000" stroke-width="0.75" fill="none"/>
<path d="M42.6,101.16 H47.20 M449.0,101.16 H444.40" stroke="#000" stroke-width="1.0" fill="none"/>
<path d="M42.6,69.74 H51.60 M449.0,69.74 H440.00" stroke="#000" stroke-width="0.75" fill="none"/>
<path d="M42.6,38.32 H47.20 M449.0,38.32 H444.40" stroke="#000" stroke-width="1.0" fill="none"/>
<rect x="42.6" y="6.9" width="406.4" height="314.20000000000005" fill="none" stroke="#000" stroke-width="1.5"/>
<path d="M305,161.5 H341.1" fill="none" stroke="#000000" stroke-width="1.6" stroke-dasharray="1.60 3.77 6.97 3.77"/>
<path d="M305,177.4 H341.1" fill="none" stroke="#ff0000" stroke-width="1.6" stroke-dasharray="9.50 3.93"/>
<path d="M305,193.5 H341.1" fill="none" stroke="#0000ff" stroke-width="1.6" stroke-dasharray="1.60 3.77"/>
<path d="M305,209.3 H341.1" fill="none" stroke="#ff00ff" stroke-width="1.6" stroke-dasharray="6.90 3.84"/>
<path d="M305,225.4 H341.1" fill="none" stroke="#ffa500" stroke-width="1.6"/>
<g fill="none" stroke="#000" stroke-linecap="round" stroke-linejoin="round"><path d="M1.5,162.8 C3.8,161.9 6.6,161.9 8.6,163.0 C10.6,164.1 11.9,165.8 11.8,167.4 C11.6,169.5 10.2,170.5 8.4,170.5 C6.0,170.4 3.6,169.0 1.6,167.4" stroke-width="1.25"/><path d="M6.5,162.2 C8.6,162.6 10.6,164.0 11.5,166.0" stroke-width="1.7"/><path d="M1.6,167.4 C1.2,167.1 0.9,167.2 1.0,167.7 L1.7,171.0" stroke-width="0.8"/><circle cx="1.7" cy="162.9" r="0.6" fill="#000" stroke-width="0.6"/></g>
</svg>
<div class="t xl" style="left:43.7px;top:325.9px">1.0</div>
<div class="t xl" style="left:134.0px;top:325.9px">1.5</div>
<div class="t xl" style="left:224.3px;top:325.9px">2.0</div>
<div class="t xl" style="left:314.6px;top:325.9px">2.5</div>
<div class="t xl" style="left:404.9px;top:325.9px">3.0</div>
<div class="t yl" style="left:36.8px;top:322.2px">0.0</div>
<div class="t yl" style="left:36.8px;top:259.4px">0.2</div>
<div class="t yl" style="left:36.8px;top:196.5px">0.4</div>
<div class="t yl" style="left:36.8px;top:133.7px">0.6</div>
<div class="t yl" style="left:36.8px;top:70.8px">0.8</div>
<div class="t yl" style="left:36.8px;top:8.0px">1.0</div>
<div class="t lg" style="left:350px;top:153.6px"><i>k</i>=0.01</div>
<div class="t lg" style="left:350px;top:169.5px"><i>k</i>=0.1</div>
<div class="t lg" style="left:350px;top:186.0px"><i>k</i>=0.2</div>
<div class="t lg" style="left:350px;top:202.4px"><i>k</i>=0.4</div>
<div class="t lg" style="left:350px;top:217.5px"><i>k</i>=1</div>
<div class="t ser" style="left:222.8px;top:341.9px;font-size:22px">&#916;<span style="margin-right:-0.6px">/</span>&#916;<span style="font-style:italic;font-size:16px;position:relative;top:9.4px;left:0.3px">G</span></div>
</body></html>
